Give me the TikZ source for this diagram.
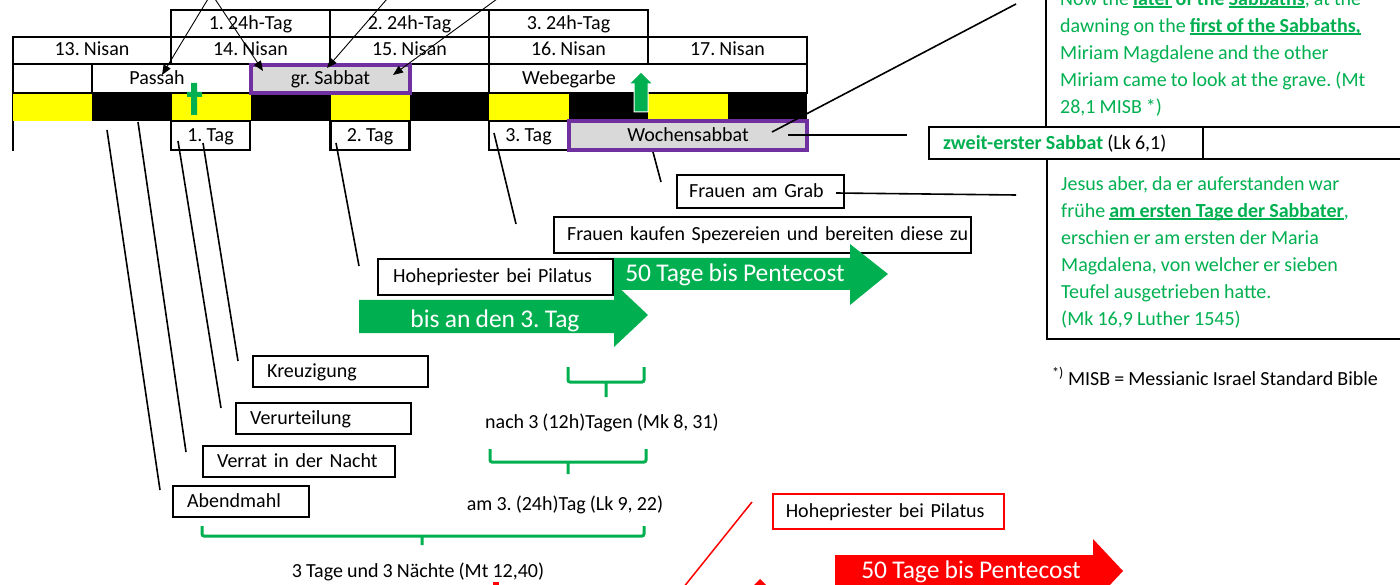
\documentclass[tikz,border=0pt]{standalone}
\usepackage{fontspec}
\setmainfont[WordSpace=0.9]{Carlito}
\usepackage{xcolor}
\usepackage{tikz}
\usetikzlibrary{arrows.meta}

\definecolor{mygreen}{HTML}{00B050}
\definecolor{mypurple}{HTML}{7030A0}
\definecolor{mygray}{HTML}{D9D9D9}
\definecolor{myyellow}{HTML}{FFFF00}
\definecolor{myred}{HTML}{FF0000}

\frenchspacing
\newcommand{\pxfont}{\fontsize{20}{27}\selectfont}
\newcommand{\arrfont}{\fontsize{25.5}{30}\selectfont}
\newcommand{\undl}[1]{\setbox0\hbox{#1}\rlap{\rule[-2.5pt]{\wd0}{1.4pt}}\box0\relax}

\begin{document}
\begin{tikzpicture}[x=1pt,y=-1pt,
    lbl/.style={font=\pxfont, inner sep=0pt, anchor=base},
    grid/.style={line width=2.3pt, line cap=rect},
    tagbox/.style={draw, line width=2.3pt, fill=white, font=\pxfont, text height=15pt, text depth=3pt, inner sep=0pt, minimum width=79pt, minimum height=29pt},
    sabbox/.style={draw=mypurple, line width=4.5pt, fill=mygray, font=\pxfont, text height=15pt, text depth=3pt, inner sep=0pt},
    evbox/.style={draw, line width=2.3pt, fill=white, font=\pxfont, text height=15pt, text depth=3pt, inner xsep=14pt, inner ysep=0pt, align=left, anchor=west},
    conn/.style={line width=1.6pt},
    ptr/.style={line width=0.9pt, -{Triangle[length=10pt,width=8pt]}},
    brace/.style={draw=mygreen, line width=3pt, rounded corners=2pt},
    bigarrow/.style={font=\arrfont, text=white, inner sep=0pt, anchor=base},
    greentext/.style={font=\pxfont, text=mygreen, inner sep=0pt, align=left, anchor=north west}
  ]
    \path[use as bounding box] (0,0) rectangle (1400,585);
    \clip (0,0) rectangle (1400,585);

    % Table grid
    \draw[grid] (171,10) -- (648,10) (13,37) -- (807,37) (13,64) -- (807,64) (13,93) -- (807,93);
    \draw[grid] (171,10) -- (171,64) (330,10) -- (330,64) (489,10) -- (489,93) (648,10) -- (648,64);
    \draw[grid] (13,37) -- (13,150) (807,37) -- (807,93) (92,64) -- (92,93);
    % 24h days and Nisan dates
    \node[lbl] (day1) at (250.5,30) {1. 24h-Tag};
    \node[lbl] (day2) at (409.5,30) {2. 24h-Tag};
    \node[lbl] (day3) at (568.5,30) {3. 24h-Tag};
    \node[lbl] (nisan13) at (92,56) {13. Nisan};
    \node[lbl] (nisan14) at (250.5,56) {14. Nisan};
    \node[lbl] (nisan15) at (409.5,56) {15. Nisan};
    \node[lbl] (nisan16) at (568.5,56) {16. Nisan};
    \node[lbl] (nisan17) at (727.5,56) {17. Nisan};
    \node[lbl] (passah) at (157,85) {Passah};
    \node[lbl] (webe) at (569,85) {Webegarbe};

    % Day and night bar
    \foreach \i in {0,2,4,6,8}
      \fill[myyellow] (13+79.4*\i,94) rectangle ++(79.4,27);
    \foreach \i in {1,3,5,7,9}
      \fill[black] (13+79.4*\i,93) rectangle ++(79.4,28);

    % Tag boxes
    \node[tagbox] (tag1) at (210.5,135.5) {1. Tag};
    \node[tagbox] (tag2) at (370,135.5) {2. Tag};
    \node[tagbox] (tag3) at (528.5,135.5) {3. Tag};

    % Sabbaths
    \node[sabbox, minimum width=159pt, minimum height=28pt] (grsab) at (330.5,79) {gr. Sabbat};
    \node[sabbox, minimum width=238pt, minimum height=29pt] (wochsab) at (688,135.5) {Wochensabbat};

    % Cross and resurrection arrow
    \fill[mygreen] (191,83) rectangle (197,115) (187,92) rectangle (202,97);
    \filldraw[fill=mygreen, draw=white, line width=1pt] (641,72) -- (653,84) -- (648,84) -- (648,112) -- (634,112) -- (634,84) -- (629,84) -- cycle;

    % Arrows from above
    \coordinate (src1) at (208,-1);
    \coordinate (src2) at (215,-1);
    \coordinate (src3) at (387,-1);
    \coordinate (src4) at (497,-1);
    \coordinate (passah-in) at (162,75);
    \coordinate (grsab-in1) at (263,71);
    \coordinate (grsab-in2) at (327,68);
    \coordinate (grsab-in3) at (393,75);
    \draw[ptr] (src1) -- (passah-in);
    \draw[ptr] (src2) -- (grsab-in1);
    \draw[ptr] (src3) -- (grsab-in2);
    \draw[ptr] (src4) -- (grsab-in3);

    % Right hand notes
    \draw[line width=2pt] (1046,-2) -- (1046,127);
    \draw[line width=2pt] (929,127) rectangle (1403,159) (1203,127) -- (1203,159);
    \draw[line width=2pt] (1047,159) -- (1047,339) -- (1403,339);
    \node[greentext] (mt28) at (1060,-13.9) {\strut Now the \undl{\textbf{later}} \textbf{of the} \undl{\textbf{Sabbaths}}, at the\\
      dawning on the \undl{\textbf{first of the Sabbaths,}}\\
      Miriam Magdalene and the other\\
      Miriam came to look at the grave. (Mt\\
      28,1 MISB *)};
    \node[lbl, anchor=base west] (zweit) at (943,150) {\textcolor{mygreen}{\textbf{zweit-erster Sabbat}} (Lk 6,1)};
    \node[greentext] (mk16) at (1061,171.1) {\strut Jesus aber, da er auferstanden war\\
      frühe \undl{\textbf{am ersten Tage der Sabbater}},\\
      erschien er am ersten der Maria\\
      Magdalena, von welcher er sieben\\
      Teufel ausgetrieben hatte.\\
      (Mk 16,9 Luther 1545)};
    \node[lbl, anchor=base west] (misb) at (1052,385) {\textsuperscript{*)} MISB = Messianic Israel Standard Bible};

    % Events
    \node[evbox, text width=147pt, minimum height=31pt] (kreuz) at (252,371.5) {Kreuzigung};
    \node[evbox, text width=147pt, minimum height=31pt] (verurt) at (235,418.5) {Verurteilung};
    \node[evbox, text width=164pt, minimum height=31pt] (verrat) at (202,461.5) {Verrat in der Nacht};
    \node[evbox, text width=108pt, minimum height=31pt] (abend) at (172,501.5) {Abendmahl};
    \node[evbox, text width=143pt, inner xsep=12pt, minimum height=33pt] (grab) at (676,191.5) {Frauen am Grab};
    \node[evbox, text width=391pt, inner xsep=13pt, minimum height=36pt] (kaufen) at (553,235) {\mbox{Frauen kaufen Spezereien und bereiten diese zu}};

    % 50 days arrow
    \fill[mygreen] (599,258) -- (850,258) -- (850,244) -- (888,274) -- (850,305) -- (850,290) -- (599,290) -- cycle;
    \node[bigarrow] (fifty) at (735,282) {50 Tage bis Pentecost};
    \node[evbox, text width=205pt, inner xsep=15pt, minimum height=36pt] (pilatus) at (377,277) {Hohepriester bei Pilatus};
    % third day arrow
    \fill[mygreen] (359,300) -- (614,300) -- (614,283) -- (648,315) -- (614,347) -- (614,333) -- (359,333) -- cycle;
    \node[bigarrow] (third) at (495,327) {bis an den 3. Tag};

    % Connectors to events
    \coordinate (c-abend) at (107,130);
    \coordinate (e-abend) at (160,490);
    \coordinate (c-verrat) at (138,122);
    \coordinate (e-verrat) at (186,452);
    \coordinate (c-verurt) at (178,141);
    \coordinate (e-verurt) at (221,408);
    \coordinate (c-kreuz) at (203,143);
    \coordinate (e-kreuz) at (238,361);
    \coordinate (c-pilatus) at (336,143);
    \coordinate (e-pilatus) at (359,266);
    \coordinate (c-kaufen) at (494,133);
    \coordinate (e-kaufen) at (516,224);
    \coordinate (c-grab) at (653,152);
    \coordinate (e-grab) at (661,182);
    \coordinate (c-mt28) at (772,132);
    \coordinate (e-mt28) at (1016,4);
    \coordinate (c-zweit) at (788,135);
    \coordinate (e-zweit) at (907,135);
    \coordinate (c-mk16) at (836,193);
    \coordinate (e-mk16) at (1016,195);
    \draw[conn] (c-abend) -- (e-abend);
    \draw[conn] (c-verrat) -- (e-verrat);
    \draw[conn] (c-verurt) -- (e-verurt);
    \draw[conn] (c-kreuz) -- (e-kreuz);
    \draw[conn] (c-pilatus) -- (e-pilatus);
    \draw[conn] (c-kaufen) -- (e-kaufen);
    \draw[conn] (c-grab) -- (e-grab);
    \draw[conn] (c-mt28) -- (e-mt28);
    \draw[conn] (c-zweit) -- (e-zweit);
    \draw[conn] (c-mk16) -- (e-mk16);

    % Braces
    \draw[brace] (568,367) -- (568,382) -- (644,382) -- (644,367) (606,382) -- (606,397);
    \node[lbl] (nach3) at (602,428) {nach 3 (12h)Tagen (Mk 8, 31)};
    \draw[brace] (490,449) -- (490,462) -- (646,462) -- (646,449) (568,462) -- (568,474);
    \node[lbl] (am3) at (565,510) {am 3. (24h)Tag (Lk 9, 22)};
    \draw[brace] (202,526) -- (202,536) -- (644,536) -- (644,526) (422,536) -- (422,545);
    \node[lbl] (nights) at (418,577) {3 Tage und 3 Nächte (Mt 12,40)};

    % Red part
    \node[evbox, draw=myred, line width=1.5pt, text width=205pt, inner xsep=13pt, minimum height=35pt] (redpilatus) at (772,511.5) {Hohepriester bei Pilatus};
    \coordinate (r-top) at (752,502);
    \coordinate (r-bot) at (683,588);
    \draw[myred, line width=1.5pt] (r-top) -- (r-bot);
    \fill[myred] (835,555) -- (1093,555) -- (1093,539) -- (1123,571) -- (1093,603) -- (1093,587) -- (835,587) -- cycle;
    \node[bigarrow] (redfifty) at (971,578) {50 Tage bis Pentecost};
    \fill[myred] (753,586) -- (760,579) -- (767,586) -- cycle;
    \fill[myred] (493,582) rectangle (499,586);
  \end{tikzpicture}
\end{document}
